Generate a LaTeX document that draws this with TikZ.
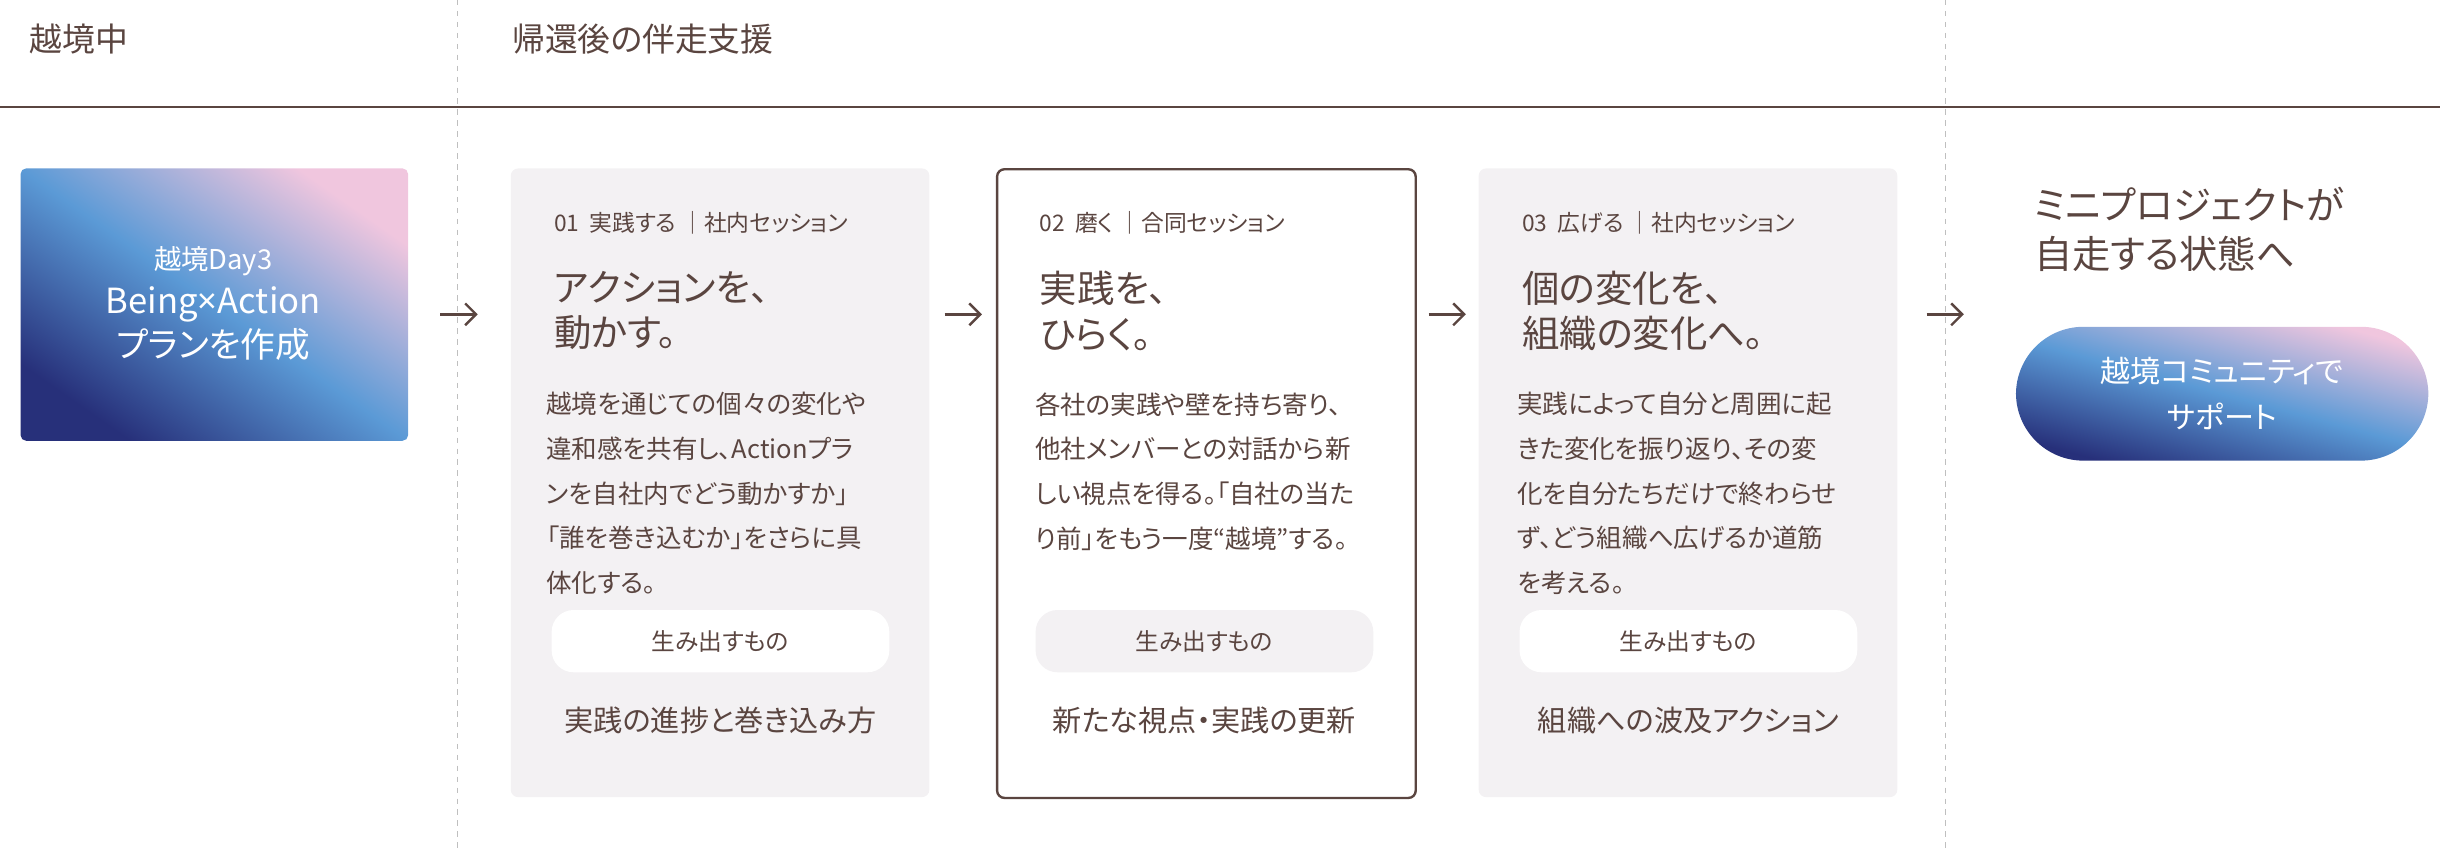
\documentclass[tikz,border=0pt]{standalone}
\usepackage{fontspec}
\setmainfont{Noto Sans CJK JP}[RawFeature=+palt]
\newfontfamily\latinfont{Noto Sans}
\usetikzlibrary{positioning,arrows.meta}
\definecolor{ink}{HTML}{5A4540}
\definecolor{cardbg}{HTML}{F3F1F3}
\definecolor{navy}{HTML}{27307A}
\definecolor{sky}{HTML}{5B9AD6}
\definecolor{blush}{HTML}{F0C6DE}
\tikzset{
  card/.style={fill=cardbg, rounded corners=4pt, minimum width=269*0.03cm, minimum height=404*0.03cm, anchor=north west},
  pill/.style={fill=white, rounded corners=12pt, minimum width=217*0.03cm, minimum height=40*0.03cm, text=ink, font=\fontsize{13}{15}\selectfont},
  lbl/.style={anchor=west, text=ink, font=\fontsize{12.5}{14}\selectfont},
  ttl/.style={anchor=north west, text=ink, align=left, font=\fontsize{20.5}{25}\selectfont},
  body/.style={anchor=north west, text=ink, align=left, font=\fontsize{14}{24.5}\selectfont},
  res/.style={text=ink, font=\fontsize{16}{18}\selectfont},
  arr/.style={draw=ink, line width=1.3pt, -{Straight Barb[length=6pt,width=12pt]}},
}
\begin{document}
\begin{tikzpicture}[x=0.03cm,y=-0.03cm]
\useasboundingbox (0,0) rectangle (1568,546);
% header
\node[anchor=west, text=ink, font=\fontsize{18}{20}\selectfont] (h1) at (15,25) {越境中};
\node[anchor=west, text=ink, font=\fontsize{18}{20}\selectfont] (h2) at (325,25) {帰還後の伴走支援};
\draw[ink, line width=1.2pt] (0,69) -- (1568,69);
\draw[gray!50, dashed] (294,0) -- (294,546);
\draw[gray!50, dashed] (1250,0) -- (1250,546);

% Day3
\node[minimum width=249*0.03cm, minimum height=175*0.03cm, anchor=north west, rounded corners=3pt,
  left color=blush, right color=navy, middle color=sky, shading angle=-35] (day3) at (13,108) {};
\node[text=white, align=center, font=\fontsize{15}{26}\selectfont] at (137,195)
  {越境Day3\\[-2pt]{\fontsize{19}{26}\selectfont Being{\latinfont ×}Action}\\[-2pt]{\fontsize{19}{26}\selectfont プランを作成}};

% cards
\node[card] (c1) at (328,108) {};
\node[card, fill=white, draw=ink, line width=1.3pt] (c2) at (640,108) {};
\node[card] (c3) at (950,108) {};

\node[lbl] at (352,143) {01\ \ 実践する\ ｜社内セッション};
\node[ttl] at (352,170) {アクションを、\\動かす。};
\node[body] at (347,248) {越境を通じての個々の変化や\\違和感を共有し、Actionプラ\\ンを自社内でどう動かすか」\\「誰を巻き込むか」をさらに具\\体化する。};
\node[pill] at (463,412) {生み出すもの};
\node[res] at (463,463) {実践の進捗と巻き込み方};

\node[lbl] at (664,143) {02\ \ 磨く\ ｜合同セッション};
\node[ttl] at (664,170) {実践を、\\ひらく。};
\node[body] at (661,248) {各社の実践や壁を持ち寄り、\\他社メンバーとの対話から新\\しい視点を得る。「自社の当た\\り前」をもう一度“越境”する。};
\node[pill, fill=cardbg] at (774,412) {生み出すもの};
\node[res] at (774,463) {新たな視点・実践の更新};

\node[lbl] at (974,143) {03\ \ 広げる\ ｜社内セッション};
\node[ttl] at (974,170) {個の変化を、\\組織の変化へ。};
\node[body] at (971,248) {実践によって自分と周囲に起\\きた変化を振り返り、その変\\化を自分たちだけで終わらせ\\ず、どう組織へ広げるか道筋\\を考える。};
\node[pill] at (1085,412) {生み出すもの};
\node[res] at (1085,463) {組織への波及アクション};

% goal
\node[anchor=north west, text=ink, align=left, font=\fontsize{21}{27}\selectfont] (goal) at (1303,116) {ミニプロジェクトが\\自走する状態へ};
\node[minimum width=265*0.03cm, minimum height=86*0.03cm, rounded corners=37pt,
  left color=blush, right color=navy, middle color=sky, shading angle=-15,
  text=white, align=center, font=\fontsize{16.5}{25}\selectfont] (comm) at (1428,253) {越境コミュニティで\\サポート};

% arrows
\foreach \x in {283,607,918,1238}{
  \coordinate (s\x) at (\x,202);
  \coordinate (e\x) at (\x+24,202);
  \draw[arr] (s\x) -- (e\x);
}
\end{tikzpicture}
\end{document}
